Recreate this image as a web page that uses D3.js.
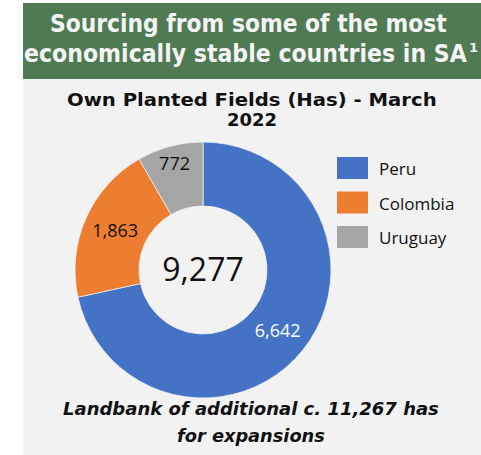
<!DOCTYPE html>
<html>
<head>
<meta charset="utf-8">
<script src="https://cdn.jsdelivr.net/npm/d3@7"></script>
<style>
  html, body { margin: 0; padding: 0; background: #fff; }
  svg { display: block; }
</style>
</head>
<body>
<div class="chart"></div>
<script>
// data
var countries = ["Peru", "Colombia", "Uruguay"];
var hectares = [6642, 1863, 772];
var colors = ["#4472C4", "#ED7D31", "#A5A5A5"];
var headerLines = ["Sourcing from some of the most", "economically stable countries in SA"];
var subtitleLines = ["Own Planted Fields (Has) - March", "2022"];
var footerLines = ["Landbank of additional c. 11,267 has", "for expansions"];

var width = 481, height = 455;
var svg = d3.select(".chart").append("svg")
            .attr("width", width)
            .attr("height", height);

// panels
svg.append("rect").attr("x", 23).attr("y", 79).attr("width", width - 23).attr("height", height - 79).attr("fill", "#F2F2F2");
svg.append("rect").attr("x", 23).attr("y", 3).attr("width", width - 23).attr("height", 76).attr("fill", "#507A53");

// squeeze a line of text horizontally so it spans [x0, x0 + w]
function fitLine(parent, str, x0, y, w) {
    var t = parent.append("text").attr("x", 0).attr("y", 0).text(str);
    var natural = t.node().getComputedTextLength();
    var k = w / natural;
    t.attr("transform", "translate(" + x0 + "," + y + ") scale(" + k + ",1)");
    return t;
}

// header
var header = svg.append("g").attr("font-family", "DejaVu Sans").attr("font-weight", "bold")
                .attr("fill", "#F4F4F4").attr("font-size", 24);
fitLine(header, headerLines[0], 50, 32, 397);
fitLine(header, headerLines[1], 24, 62, 443);
header.append("text").attr("x", 469).attr("y", 52).attr("font-size", 13).text("1");

// subtitle
var sub = svg.append("g").attr("font-family", "DejaVu Sans").attr("font-weight", "bold").attr("fill", "#111")
             .attr("font-size", 17);
fitLine(sub, subtitleLines[0], 67, 106, 370);
fitLine(sub, subtitleLines[1], 227, 126, 50);

// donut
var cx = 203, cy = 270, outer = 128, inner = 64;
var total = d3.sum(hectares);
var color = d3.scaleOrdinal().domain(countries).range(colors);
var pie = d3.pie().sort(null).value(function(d) { return d.value; });
var arc = d3.arc().innerRadius(inner).outerRadius(outer);
var data = countries.map(function(c, i) { return {name: c, value: hectares[i]}; });
var arcs = pie(data);

var g = svg.append("g").attr("transform", "translate(" + cx + "," + cy + ")");
g.selectAll("path").data(arcs).enter().append("path")
 .attr("d", arc)
 .attr("fill", function(d) { return color(d.data.name); })
 .attr("stroke", "#F2F2F2")
 .attr("stroke-width", 0.75);

// labels: centroid, pushed outward for narrow slices
g.selectAll(".lbl").data(arcs).enter().append("text")
 .attr("class", "lbl")
 .attr("font-family", "Open Sans")
 .attr("font-size", 18)
 .attr("text-anchor", "middle")
 .attr("dy", "0.35em")
 .attr("fill", function(d, i) { return i === 0 ? "#fff" : "#111"; })
 .attr("transform", function(d) {
     var span = d.endAngle - d.startAngle;
     var r = span < 0.6 ? inner + (outer - inner) * 0.72 : (inner + outer) / 2;
     var a = (d.startAngle + d.endAngle) / 2;
     return "translate(" + (r * Math.sin(a)) + "," + (-r * Math.cos(a)) + ")";
 })
 .text(function(d) { return d3.format(",")(d.data.value); });

g.append("text")
 .attr("font-family", "Open Sans").attr("font-size", 32)
 .attr("text-anchor", "middle").attr("y", 11).attr("fill", "#111")
 .text(d3.format(",")(total));

// legend
var ly = d3.scalePoint().domain(countries).range([157, 226]);
var legend = svg.append("g");
legend.selectAll("rect").data(countries).enter().append("rect")
      .attr("x", 337).attr("y", function(d) { return ly(d); })
      .attr("width", 31).attr("height", 22)
      .attr("fill", function(d) { return color(d); });
legend.selectAll("text").data(countries).enter().append("text")
      .attr("x", 379).attr("y", function(d) { return ly(d) + 18; })
      .attr("font-family", "Open Sans").attr("font-size", 17).attr("fill", "#111")
      .text(function(d) { return d; });

// footer
var foot = svg.append("g").attr("font-family", "DejaVu Sans").attr("font-weight", "bold").attr("font-style", "italic")
              .attr("fill", "#111").attr("font-size", 18);
fitLine(foot, footerLines[0], 63, 415, 376);
fitLine(foot, footerLines[1], 177, 442, 148);
</script>
</body>
</html>
